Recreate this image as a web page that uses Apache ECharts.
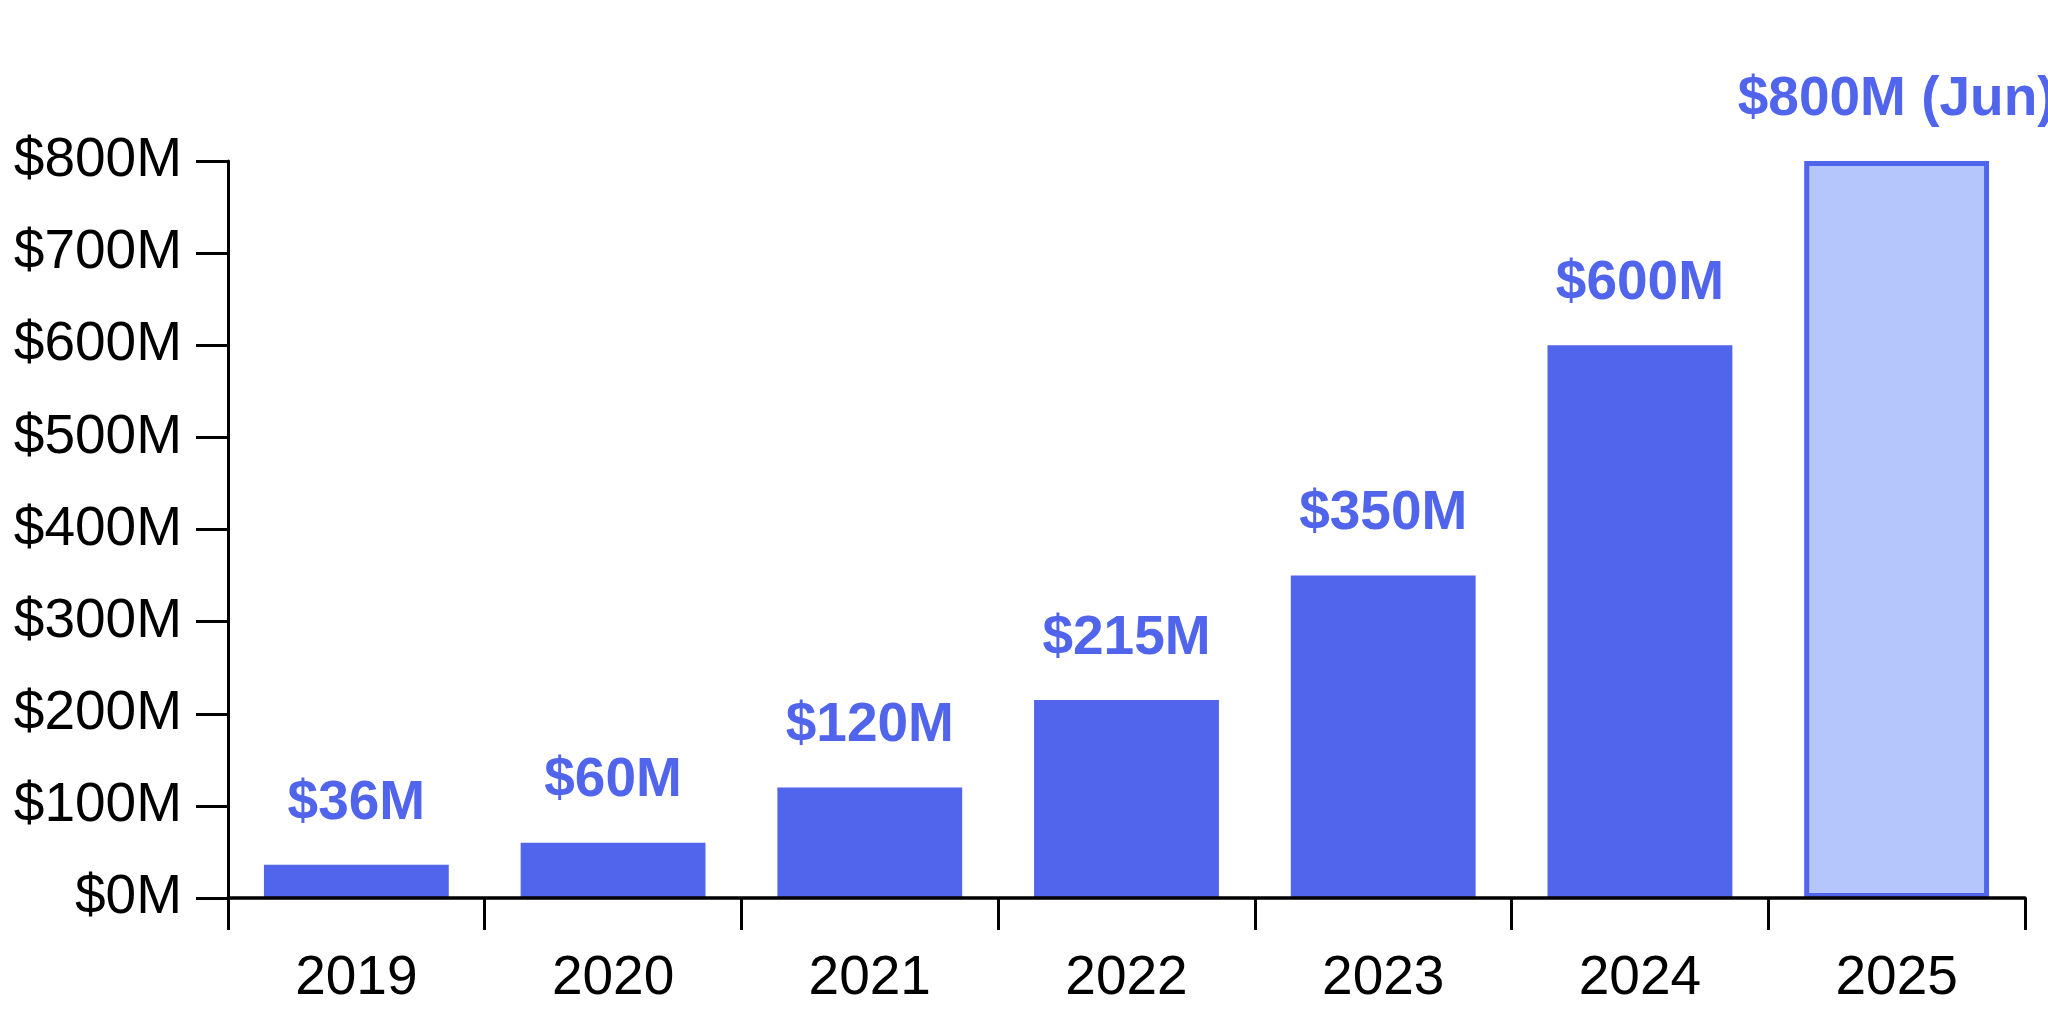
<!DOCTYPE html>
<html>
	<head>
		<meta charset="UTF-8">
		<title></title>
		<script src="https://cdn.jsdelivr.net/npm/echarts@6/dist/echarts.min.js"></script>
		<style>
			html, body { margin: 0; padding: 0; background: #fff; }
			#main { width: 2048px; height: 1024px; }
		</style>
	</head>
	<body>
		<div id="main"></div>
		<script>
			// 年份
			var years = ['2019', '2020', '2021', '2022', '2023', '2024', '2025'];
			// 数值（百万美元）
			var values = [36, 60, 120, 215, 350, 600, 800];
			// 柱顶标签
			var barLabels = ['$36M', '$60M', '$120M', '$215M', '$350M', '$600M', '$800M (Jun)'];
			// y轴刻度
			var yTicks = [0, 100, 200, 300, 400, 500, 600, 700, 800];

			var blue = '#5064EC';
			var lightBlue = '#B5C6FC';
			var font = '"Liberation Sans", Arial, Helvetica, sans-serif';

			var myChart = echarts.init(document.getElementById('main'));

			var barData = [];
			for (var i = 0; i < values.length; i++) {
				var item = { value: values[i] };
				// 2025 为未完整年份，浅色加边框
				if (i === values.length - 1) {
					item.itemStyle = { color: lightBlue, borderColor: blue, borderWidth: 5 };
				}
				barData.push(item);
			}

			var option = {
				animation: false,
				grid: { left: 228, right: 23, top: 161, bottom: 126 },
				xAxis: {
					type: 'category',
					data: years,
					z: 5,
					axisLine: { lineStyle: { color: '#000', width: 3.5 } },
					axisTick: { show: true, length: 32, lineStyle: { color: '#000', width: 3 } },
					axisLabel: { color: '#000', fontSize: 55, fontFamily: font, margin: 53 }
				},
				yAxis: {
					type: 'value',
					min: yTicks[0],
					max: yTicks[yTicks.length - 1],
					interval: 100,
					splitLine: { show: false },
					axisLine: { show: true, lineStyle: { color: '#000', width: 3 } },
					axisTick: { show: true, length: 32, lineStyle: { color: '#000', width: 3 } },
					axisLabel: {
						color: '#000', fontSize: 55, fontFamily: font, margin: 46,
						formatter: function (v) { return '$' + v + 'M'; }
					}
				},
				series: [{
					type: 'bar',
					data: barData,
					barCategoryGap: '28%',
					itemStyle: { color: blue },
					label: {
						show: true,
						position: 'top',
						distance: 34,
						color: blue,
						fontSize: 55,
						fontWeight: 'bold',
						fontFamily: font,
						formatter: function (p) { return barLabels[p.dataIndex]; }
					}
				}]
			};

			myChart.setOption(option);
		</script>
	</body>
</html>
